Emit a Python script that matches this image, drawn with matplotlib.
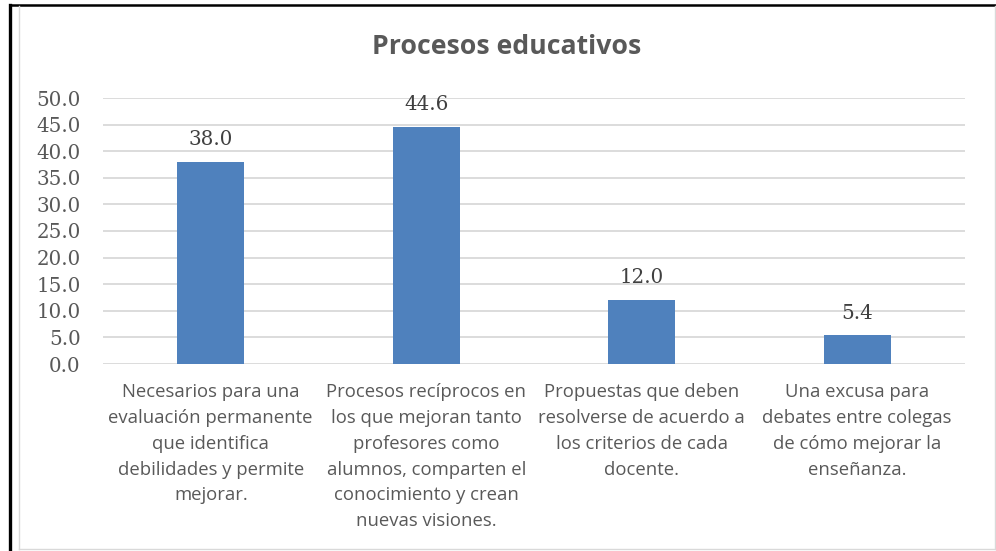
import matplotlib.pyplot as plt
from matplotlib.lines import Line2D

categories = [
    "Necesarios para una\nevaluación permanente\nque identifica\ndebilidades y permite\nmejorar.",
    "Procesos recíprocos en\nlos que mejoran tanto\nprofesores como\nalumnos, comparten el\nconocimiento y crean\nnuevas visiones.",
    "Propuestas que deben\nresolverse de acuerdo a\nlos criterios de cada\ndocente.",
    "Una excusa para\ndebates entre colegas\nde cómo mejorar la\nenseñanza.",
]
values = [38.0, 44.6, 12.0, 5.4]
yticks = [0, 5, 10, 15, 20, 25, 30, 35, 40, 45, 50]

W, H = 996, 551
fig = plt.figure(figsize=(W / 100, H / 100), dpi=100)

# frame lines (outer border of the pasted chart)
def fline(x0, y0, x1, y1, color, lw):
    fig.add_artist(Line2D([x0 / W, x1 / W], [1 - y0 / H, 1 - y1 / H],
                          color=color, lw=lw, transform=fig.transFigure))

fline(9.5, 4.5, 996, 4.5, "black", 1.8)
fline(9.5, 4.5, 9.5, 551, "black", 2.4)
fline(19, 6, 19, 549, "#d9d9d9", 1.0)
fline(19, 549, 995, 549, "#d9d9d9", 1.0)
fline(995, 6, 995, 549, "#d9d9d9", 1.0)

ax = fig.add_axes([103 / W, 1 - 364 / H, 862 / W, 266 / H])
x = range(len(values))
ax.bar(x, values, width=0.31, color="#4f81bd", zorder=3)
ax.set_xlim(-0.5, len(values) - 0.5)
ax.set_ylim(0, 50)
ax.set_yticks(yticks)
ax.set_yticklabels([f"{v:.1f}" for v in yticks], family="DejaVu Serif",
                   fontsize=14.3, color="#595959")
ax.tick_params(axis="y", length=0, pad=16)
ax.tick_params(axis="x", length=0, pad=14)
ax.set_xticks(list(x))
ax.set_xticklabels(categories, family="Open Sans", fontsize=13.3, color="#595959",
                   linespacing=1.55)
ax.grid(axis="y", color="#d9d9d9", lw=1.3, zorder=0)
for s in ax.spines.values():
    s.set_visible(False)

for i, v in enumerate(values):
    ax.text(i, v + 2.4, f"{v:.1f}", ha="center", va="bottom",
            family="DejaVu Serif", fontsize=14.3, color="#404040")

fig.text(507 / W, 1 - 47 / H, "Procesos educativos", ha="center", va="center",
         family="Open Sans", fontweight="bold", fontsize=19.2, color="#595959")

fig.savefig("out.png", dpi=100)
